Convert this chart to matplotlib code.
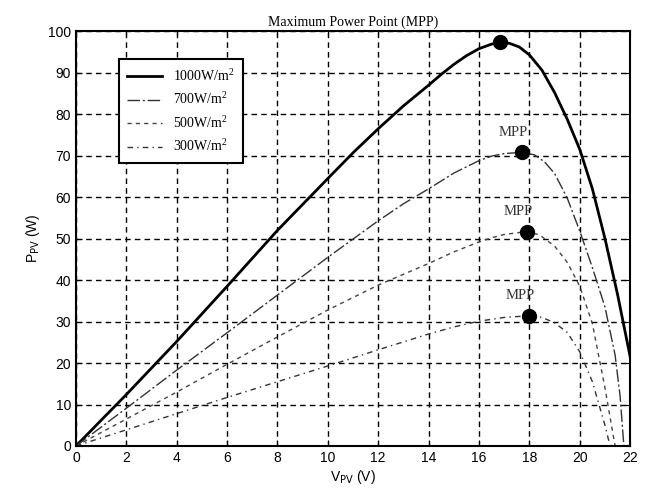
import matplotlib
matplotlib.use('Agg')
from matplotlib import pyplot as plt

# (V, P) per irradiance
v_1000 = [0, 1, 2, 4, 6, 8, 10, 11, 12, 13, 14, 14.5, 15, 15.5, 16, 16.5, 16.85, 17.2, 17.6, 18, 18.5, 19, 19.5, 20, 20.5, 21, 21.5, 22]
p_1000 = [0, 6.2, 12.4, 25.2, 38.5, 52, 64.5, 70.7, 76.5, 82, 87, 89.6, 92, 94.1, 95.8, 96.9, 97.3, 97.1, 96.2, 94.3, 90.6, 85.2, 78.8, 71.5, 62, 50, 36.5, 21.5]

v_700 = [0, 2, 4, 6, 8, 10, 12, 13, 14, 15, 16, 16.5, 17, 17.7, 18.2, 18.6, 19, 19.5, 20, 20.5, 21, 21.4, 21.6, 21.75]
p_700 = [0, 9.1, 18.3, 27.3, 36.4, 45.5, 54.3, 58.4, 62, 65.8, 68.8, 69.9, 70.5, 70.8, 70.2, 68.5, 65.7, 59.8, 51.8, 43, 33.5, 22, 12, 0]

v_500 = [0, 2, 4, 6, 8, 10, 12, 14, 15, 16, 16.5, 17, 17.9, 18.4, 19, 19.5, 20, 20.5, 21, 21.4]
p_500 = [0, 6.5, 13, 19.7, 26.3, 32.8, 38.8, 44, 46.8, 49.2, 50.2, 51, 51.7, 50.9, 48.2, 44.3, 38.5, 29.5, 14, 0]

v_300 = [0, 2, 4, 6, 8, 10, 12, 14, 15, 16, 17, 18, 18.5, 19, 19.5, 20, 20.5, 21, 21.2]
p_300 = [0, 3.9, 7.8, 11.7, 15.5, 19.3, 23.2, 27, 28.7, 30.1, 31, 31.4, 31, 29.7, 27.4, 22.7, 15.5, 5, 0]

mpp_v = [16.85, 17.7, 17.9, 18.0]
mpp_p = [97.3, 70.8, 51.7, 31.4]

plt.rcParams['font.family'] = ['Liberation Sans', 'DejaVu Sans']
plt.rcParams['mathtext.fontset'] = 'custom'
plt.rcParams['mathtext.rm'] = 'Liberation Serif'

fig = plt.figure(figsize=(6.49, 4.92), dpi=100)
ax = fig.add_axes([0.117, 0.0935, 0.854, 0.843])

ax.plot(v_1000, p_1000, color='black', lw=2.0, label='1000W/m$^2$')
ax.plot(v_700, p_700, color='#333333', lw=1.0, dashes=(9, 2, 1.5, 2), label='700W/m$^2$')
ax.plot(v_500, p_500, color='#444444', lw=1.0, dashes=(3, 3), label='500W/m$^2$')
ax.plot(v_300, p_300, color='#333333', lw=1.0, dashes=(4, 3, 1, 3), label='300W/m$^2$')

ax.plot(mpp_v, mpp_p, 'o', color='black', markersize=10, zorder=5)
for v, p in zip(mpp_v[1:], mpp_p[1:]):
    ax.text(v - 0.35, p + 4.8, 'MPP', family='Liberation Serif', fontsize=10.5,
            ha='center', va='center', color='#333333')

ax.set_xlim(0, 22)
ax.set_ylim(0, 100)
ax.set_xticks(range(0, 23, 2))
ax.set_yticks(range(0, 101, 10))
ax.grid(True, color='black', linestyle=(0, (4, 3)), lw=1.0)
ax.tick_params(direction='in', top=True, right=True, labelsize=10, length=4)
for s in ax.spines.values():
    s.set_linewidth(1.5)

ax.set_title('Maximum Power Point (MPP)', family='Liberation Serif', fontsize=10, pad=4)
ax.set_xlabel(r'V$_{\mathsf{PV}}$ (V)', fontsize=10, labelpad=2)
ax.set_ylabel(r'P$_{\mathsf{PV}}$ (W)', fontsize=10, labelpad=4)

leg = ax.legend(loc='upper left', bbox_to_anchor=(0.065, 0.95), fancybox=False,
                framealpha=1, edgecolor='black', handlelength=2.5,
                prop={'family': 'Liberation Serif', 'size': 10}, borderpad=0.6,
                labelspacing=0.5)
leg.get_frame().set_linewidth(1.5)

plt.savefig('out.png', dpi=100)
